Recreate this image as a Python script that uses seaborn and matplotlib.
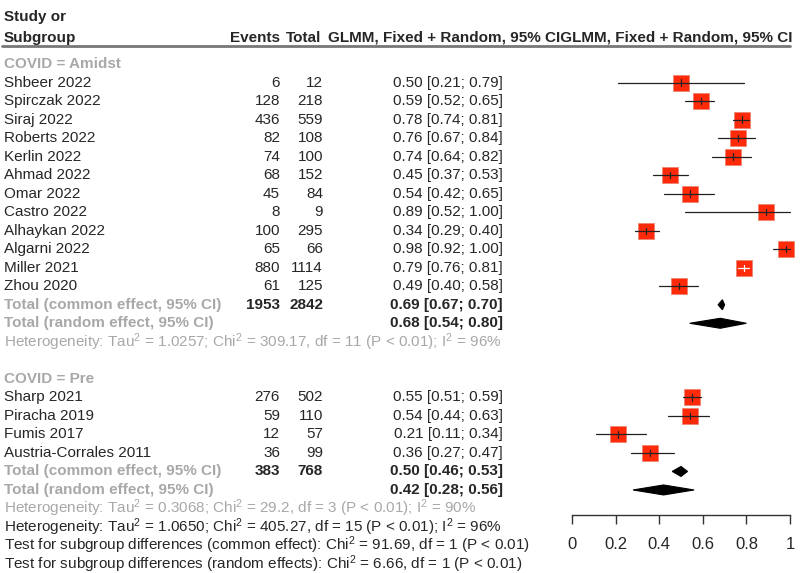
import matplotlib
matplotlib.use("Agg")
import matplotlib.pyplot as plt
import seaborn as sns
import pandas as pd
from matplotlib.patches import Polygon
from matplotlib.lines import Line2D

# ---- data ----
amidst_studies = ["Shbeer 2022", "Spirczak 2022", "Siraj 2022", "Roberts 2022", "Kerlin 2022",
                  "Ahmad 2022", "Omar 2022", "Castro 2022", "Alhaykan 2022", "Algarni 2022",
                  "Miller 2021", "Zhou 2020"]
amidst_events = [6, 128, 436, 82, 74, 68, 45, 8, 100, 65, 880, 61]
amidst_total = [12, 218, 559, 108, 100, 152, 84, 9, 295, 66, 1114, 125]
amidst_est = [0.50, 0.59, 0.78, 0.76, 0.74, 0.45, 0.54, 0.89, 0.34, 0.98, 0.79, 0.49]
amidst_lo = [0.21, 0.52, 0.74, 0.67, 0.64, 0.37, 0.42, 0.52, 0.29, 0.92, 0.76, 0.40]
amidst_hi = [0.79, 0.65, 0.81, 0.84, 0.82, 0.53, 0.65, 1.00, 0.40, 1.00, 0.81, 0.58]

pre_studies = ["Sharp 2021", "Piracha 2019", "Fumis 2017", "Austria-Corrales 2011"]
pre_events = [276, 59, 12, 36]
pre_total = [502, 110, 57, 99]
pre_est = [0.55, 0.54, 0.21, 0.36]
pre_lo = [0.51, 0.44, 0.11, 0.27]
pre_hi = [0.59, 0.63, 0.34, 0.47]

# pooled: (estimate, lower, upper)
amidst_common = (0.69, 0.67, 0.70)
amidst_random = (0.68, 0.54, 0.80)
pre_common = (0.50, 0.46, 0.53)
pre_random = (0.42, 0.28, 0.56)
amidst_sum_events, amidst_sum_total = 1953, 2842
pre_sum_events, pre_sum_total = 383, 768

amidst_het = r"Heterogeneity: Tau$^2$ = 1.0257; Chi$^2$ = 309.17, df = 11 (P < 0.01); I$^2$ = 96%"
pre_het = r"Heterogeneity: Tau$^2$ = 0.3068; Chi$^2$ = 29.2, df = 3 (P < 0.01); I$^2$ = 90%"
overall_lines = [
    r"Heterogeneity: Tau$^2$ = 1.0650; Chi$^2$ = 405.27, df = 15 (P < 0.01); I$^2$ = 96%",
    r"Test for subgroup differences (common effect): Chi$^2$ = 91.69, df = 1 (P < 0.01)",
    r"Test for subgroup differences (random effects): Chi$^2$ = 6.66, df = 1 (P < 0.01)",
]
x_ticks = [0, 0.2, 0.4, 0.6, 0.8, 1]
x_ticklabels = ["0", "0.2", "0.4", "0.6", "0.8", "1"]

# ---- style ----
sns.set_style("white")
plt.rcParams["font.family"] = ["Liberation Sans", "DejaVu Sans"]
plt.rcParams["mathtext.fontset"] = "custom"
plt.rcParams["mathtext.rm"] = "Liberation Sans"
plt.rcParams["mathtext.it"] = "Liberation Sans:italic"
plt.rcParams["mathtext.bf"] = "Liberation Sans:bold"

GRAY = "#a8a8a8"
RED = "#ff2a0a"
FS = 11

# row layout (pixel rows of the 800x573 picture)
Y0, PITCH, H, W = 64, 18.52, 573, 800
def prow(px):
    return (px - Y0) / PITCH

fig = plt.figure(figsize=(8, 5.73), dpi=100)
tax = fig.add_axes([0, 0, 1, 1])
tax.set_xlim(0, W)
tax.set_ylim(prow(H), prow(0))
tax.axis("off")

AX_BOTTOM = 515
fax = fig.add_axes([572 / W, (H - AX_BOTTOM) / H, 218 / W, AX_BOTTOM / H])
fax.patch.set_alpha(0)

X_EVENTS, X_TOTAL, X_CI = 280, 323, 503

def ci_text(e, lo, hi):
    return f"{e:.2f} [{lo:.2f}; {hi:.2f}]"

# header
tax.text(4, prow(17), "Study or", fontsize=FS, fontweight="bold", va="center")
tax.text(4, prow(38), "Subgroup", fontsize=FS, fontweight="bold", va="center")
tax.text(X_EVENTS, prow(38), "Events", fontsize=FS, fontweight="bold", va="center", ha="right")
tax.text(X_TOTAL - 2, prow(38), "Total", fontsize=FS, fontweight="bold", va="center", ha="right")
tax.text(328, prow(38), "GLMM, Fixed + Random, 95% CIGLMM, Fixed + Random, 95% CI",
         fontsize=FS, fontweight="bold", va="center")
# header rule
tax.axhline(prow(46), xmin=2 / W, xmax=790 / W, color="#777777", linewidth=2.0,
            zorder=10, clip_on=False)

SQ = 15 / 218  # square width in data units

def draw_group(start, label, studies, events, total, est, lo, hi, common, random,
               sum_e, sum_t, het):
    tax.text(4, start, label, color=GRAY, fontsize=FS, fontweight="bold", va="center")
    rows = [start + 1 + i for i in range(len(studies))]
    for r, name, ev, tt, e, l, h in zip(rows, studies, events, total, est, lo, hi):
        tax.text(4, r, name, fontsize=FS, va="center")
        tax.text(X_EVENTS, r, str(ev), fontsize=FS, va="center", ha="right")
        tax.text(X_TOTAL, r, str(tt), fontsize=FS, va="center", ha="right")
        tax.text(X_CI, r, ci_text(e, l, h), fontsize=FS, va="center", ha="right")
    df = pd.DataFrame({"est": est, "row": rows})
    sns.scatterplot(data=df, x="est", y="row", marker="s", s=118, color=RED,
                    edgecolor="#e8806c", linewidth=0.5, ax=fax, zorder=3, clip_on=False,
                    legend=False)
    for r, e, l, h in zip(rows, est, lo, hi):
        inside = (h - l) < SQ
        c = "white" if inside else "#222222"
        fax.plot([l, h], [r, r], color=c, lw=0.9, zorder=4, clip_on=False)
        fax.plot([e, e], [r - 0.17, r + 0.17], color=c, lw=0.9, zorder=4, clip_on=False)
    # totals
    rc, rr = rows[-1] + 1, rows[-1] + 2
    tax.text(4, rc, "Total (common effect, 95% CI)", color=GRAY, fontsize=FS,
             fontweight="bold", va="center")
    tax.text(X_EVENTS, rc, str(sum_e), fontsize=FS, fontweight="bold", va="center", ha="right")
    tax.text(X_TOTAL, rc, str(sum_t), fontsize=FS, fontweight="bold", va="center", ha="right")
    tax.text(X_CI, rc, ci_text(*common), fontsize=FS, fontweight="bold", va="center", ha="right")
    tax.text(4, rr, "Total (random effect, 95% CI)", color=GRAY, fontsize=FS,
             fontweight="bold", va="center")
    tax.text(X_CI, rr, ci_text(*random), fontsize=FS, fontweight="bold", va="center", ha="right")
    for r, (e, l, h) in [(rc, common), (rr, random)]:
        dh = 0.27
        fax.add_patch(Polygon([(l, r), (e, r - dh), (h, r), (e, r + dh)], closed=True,
                              facecolor="black", edgecolor="black", lw=0.8, zorder=3))
    tax.text(4, rr + 1, het, color=GRAY, fontsize=FS, va="center")
    return rr + 1

end_a = draw_group(0, "COVID = Amidst", amidst_studies, amidst_events, amidst_total,
                   amidst_est, amidst_lo, amidst_hi, amidst_common, amidst_random,
                   amidst_sum_events, amidst_sum_total, amidst_het)
end_p = draw_group(end_a + 2, "COVID = Pre", pre_studies, pre_events, pre_total,
                   pre_est, pre_lo, pre_hi, pre_common, pre_random,
                   pre_sum_events, pre_sum_total, pre_het)
for i, line in enumerate(overall_lines):
    tax.text(4, end_p + 1 + i, line, fontsize=FS, va="center")

# forest axis: line at the bottom of the plot area, ticks pointing down
fax.set_xlim(0, 1)
fax.set_ylim(prow(AX_BOTTOM), prow(0))
for s in ["top", "right", "left"]:
    fax.spines[s].set_visible(False)
fax.spines["bottom"].set_color("#333333")
fax.spines["bottom"].set_linewidth(1.0)
fax.set_yticks([])
fax.set_xlabel("")
fax.set_ylabel("")
fax.set_xticks(x_ticks)
fax.set_xticklabels(x_ticklabels, fontsize=FS + 1)
fax.tick_params(axis="x", direction="out", length=6.5, width=1.0, color="#333333", pad=9,
                bottom=True)

fig.savefig("out.png", dpi=100)
